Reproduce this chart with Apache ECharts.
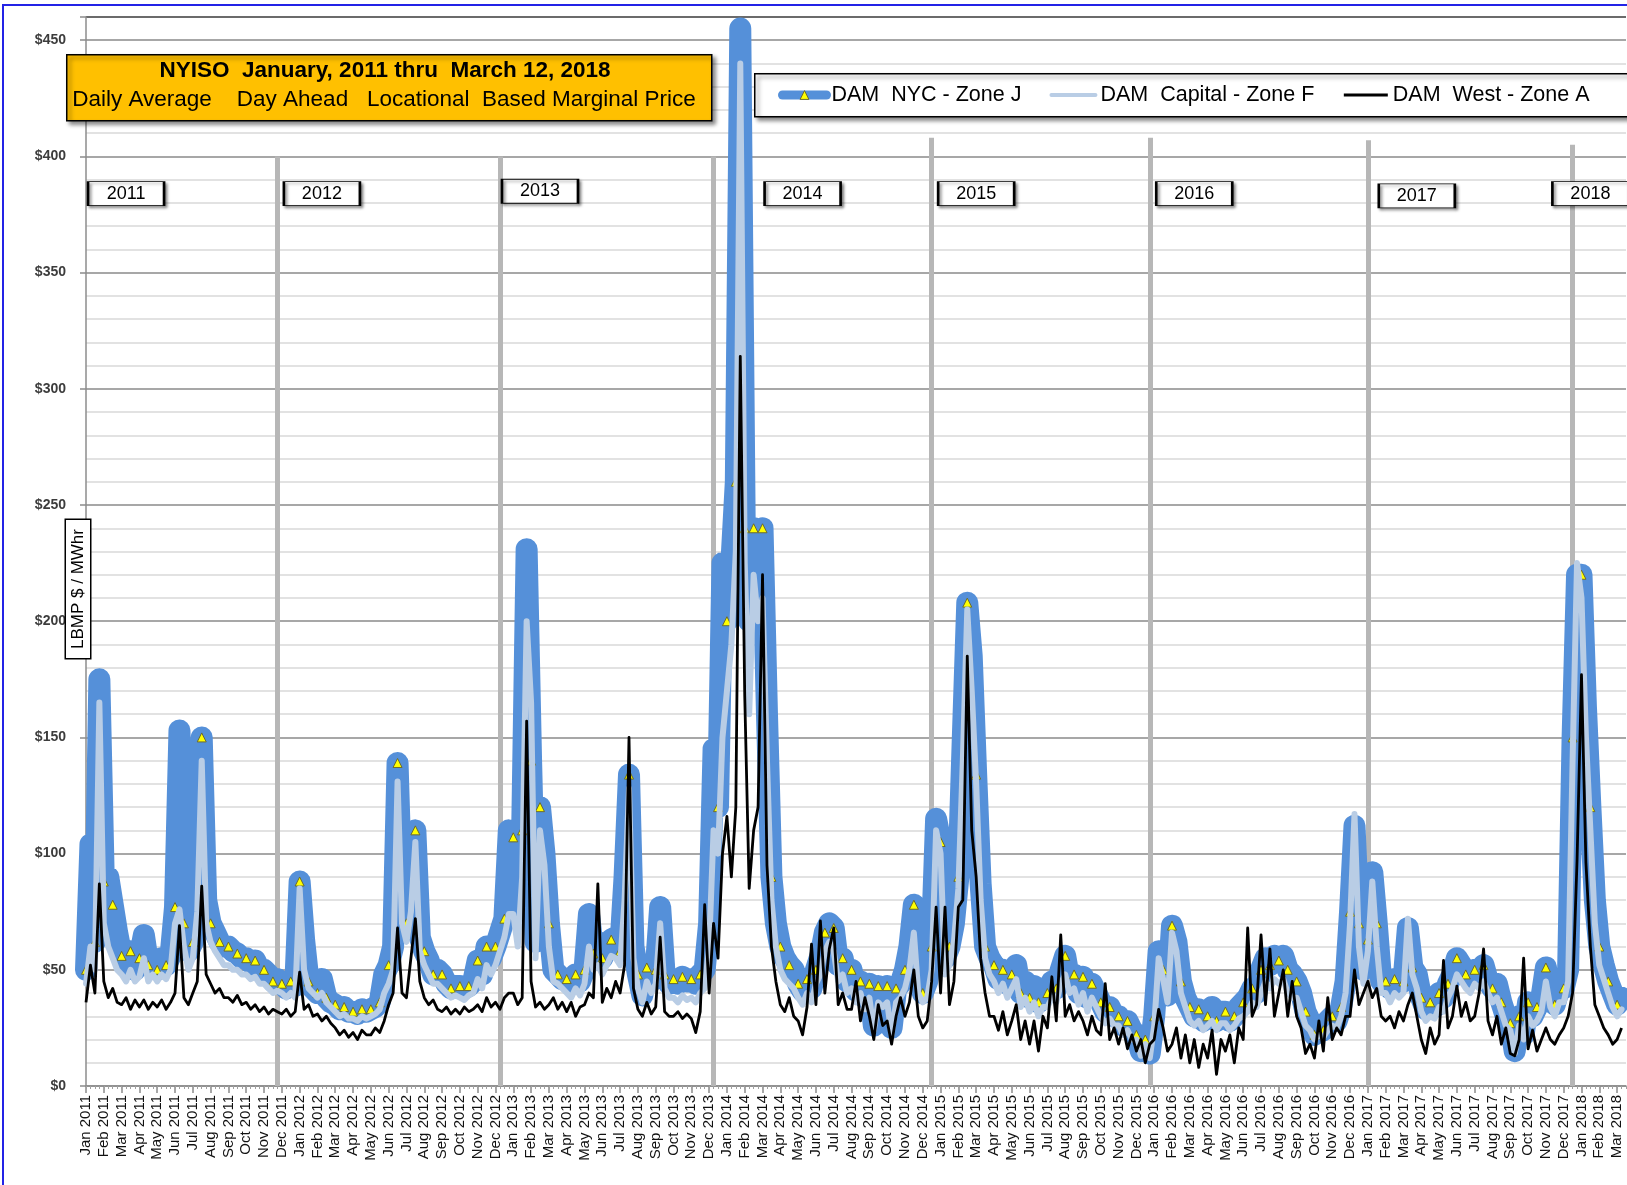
<!DOCTYPE html>
<html><head><meta charset="utf-8">
<script src="https://cdn.jsdelivr.net/npm/echarts@6/dist/echarts.min.js"></script>
<style>
html,body{margin:0;padding:0;background:#fff;overflow:hidden;}
#chart{width:1627px;height:1185px;}
#frame{position:absolute;left:2px;top:4px;width:1660px;height:1220px;border:2px solid #2323e6;pointer-events:none;box-sizing:border-box;}
</style></head><body>
<div id="chart"></div><div id="frame"></div>
<script>
// ---------- tick labels ----------
const MONTHS = ['Jan','Feb','Mar','Apr','May','Jun','Jul','Aug','Sep','Oct','Nov','Dec'];
const YEARS = ['2011','2012','2013','2014','2015','2016','2017','2018'];
const PER_MONTH = 4; // ~weekly readings (1st, 8th, 16th, 23rd of each month)

// ---------- DAM NYC - Zone J ($/MWh) ----------
const nyc2011 = [50,104,62,175, 88,90,78,66, 56,52,58,50, 55,65,52,55, 50,55,52,56, 77,153,70,58, 62,88,150,80, 70,66,62,60, 60,58,57,55, 55,53,54,50, 50,48,45,46, 44,42,45,43];
const nyc2012 = [88,63,45,42, 40,46,38,36, 35,33,34,32, 32,31,33,32, 33,34,36,48, 52,60,139,76, 70,83,110,64, 58,54,48,50, 48,44,42,43, 43,42,43,45, 54,48,60,55, 60,66,72,110];
const nyc2013 = [107,75,110,231, 140,62,120,100, 70,50,48,46, 46,44,48,45, 50,74,57,62, 55,60,63,64, 58,90,134,60, 48,39,51,45, 50,77,48,44, 46,44,47,45, 46,44,48,50, 70,145,120,225];
const nyc2014 = [200,225,260,455, 240,200,240,235, 240,160,90,70, 60,55,52,50, 44,41,46,42, 50,56,66,70, 68,52,55,45, 50,41,45,38, 44,26,43,40, 43,25,42,44, 50,60,78,48, 40,45,60,115];
const nyc2015 = [105,55,60,70, 90,150,208,185, 134,87,60,55, 52,46,50,44, 48,52,40,45, 38,43,36,40, 40,45,42,50, 56,45,48,40, 47,38,44,40, 36,32,34,30, 30,26,28,24, 22,15,20,14];
const nyc2016 = [30,58,50,39, 69,62,45,38, 34,30,33,28, 30,34,28,32, 32,28,30,34, 36,38,42,40, 50,55,52,56, 54,56,50,48, 45,40,32,28, 22,26,24,28, 30,28,34,45, 75,112,70,50];
const nyc2017 = [63,92,70,45, 45,42,46,44, 45,68,51,48, 38,33,36,34, 40,38,44,48, 55,52,48,46, 50,48,52,45, 42,44,36,30, 27,15,30,22, 36,30,34,38, 51,40,35,42, 42,50,150,220];
const nyc2018 = [220,163,120,80, 60,52,45,40, 35,38];

// ---------- DAM Capital - Zone F ----------
const cap2011 = [44,60,50,165, 70,60,55,50, 48,45,50,45, 47,55,45,48, 45,48,46,50, 70,76,60,50, 55,75,140,70, 62,58,55,52, 52,50,50,48, 48,46,47,44, 44,42,40,41, 40,38,40,38];
const cap2012 = [85,50,42,40, 38,40,36,34, 32,30,31,29, 29,28,30,29, 30,31,33,40, 44,50,131,70, 62,75,105,58, 52,48,44,44, 42,40,38,39, 38,37,39,40, 46,42,52,48, 52,58,64,74];
const cap2013 = [74,60,90,200, 165,55,110,95, 60,45,44,42, 40,38,42,39, 44,60,50,52, 48,52,56,55, 52,80,128,55, 42,36,45,40, 44,70,42,38, 38,36,39,37, 38,36,40,42, 60,110,100,150];
const cap2014 = [170,190,230,440, 225,160,220,200, 210,140,80,60, 50,46,44,42, 38,35,40,36, 44,48,58,62, 58,45,48,40, 42,36,40,33, 38,24,36,34, 36,22,36,38, 42,50,66,40, 36,38,50,110];
const cap2015 = [100,48,52,62, 85,140,205,170, 130,80,55,48, 45,40,44,38, 42,46,34,38, 32,36,30,34, 34,38,36,44, 48,40,42,35, 40,32,38,34, 30,27,29,26, 26,22,24,20, 20,13,18,12];
const cap2016 = [26,55,46,36, 66,58,40,34, 28,26,28,24, 26,28,24,27, 27,24,26,29, 30,32,36,34, 40,45,42,46, 44,46,40,38, 38,32,26,24, 20,22,21,24, 26,25,30,40, 70,117,60,44];
const cap2017 = [58,88,60,40, 40,36,40,38, 40,72,48,42, 32,28,30,29, 34,32,38,42, 48,45,42,40, 44,42,45,40, 36,38,32,26, 24,14,26,20, 30,26,28,32, 45,34,30,36, 36,45,140,225];
const cap2018 = [210,150,110,70, 52,46,40,34, 30,33];

// ---------- DAM West - Zone A ----------
const west2011 = [36,52,40,87, 45,38,42,36, 35,38,33,37, 34,37,33,36, 34,37,33,36, 40,69,38,35, 40,45,86,48, 44,40,42,38, 38,36,39,35, 36,33,35,32, 34,31,33,32, 31,33,30,32];
const west2012 = [49,33,35,30, 31,28,30,27, 25,22,24,21, 23,20,24,22, 22,25,23,28, 35,40,68,40, 38,55,72,45, 38,35,37,33, 32,34,31,33, 31,34,32,33, 35,32,38,34, 36,33,38,40];
const west2013 = [40,35,38,157, 45,34,36,33, 35,38,33,36, 32,36,30,34, 35,40,38,87, 36,42,38,45, 40,52,150,42, 33,30,36,31, 34,64,32,30, 30,32,29,31, 29,23,32,78, 40,70,55,100];
const west2014 = [116,90,120,314, 168,85,110,120, 220,95,60,45, 35,32,38,30, 28,22,34,61, 35,71,40,59, 68,35,40,33, 33,45,28,38, 30,20,35,26, 28,18,30,38, 30,36,50,30, 25,28,45,77];
const west2015 = [40,77,35,45, 77,80,185,110, 90,55,40,30, 30,24,32,22, 28,35,20,28, 18,28,15,30, 25,47,28,65, 30,35,28,32, 28,22,30,24, 22,44,20,25, 18,25,16,22, 15,20,10,18];
const west2016 = [20,33,25,15, 18,25,12,22, 10,20,8,18, 12,24,5,20, 15,22,10,25, 20,68,30,35, 65,35,59,30, 40,50,30,45, 30,25,14,18, 12,28,15,38, 20,25,22,30, 30,50,35,40];
const west2017 = [45,38,42,30, 28,30,25,32, 28,35,40,30, 20,14,25,18, 22,54,25,30, 43,30,36,28, 30,40,59,28, 22,30,18,25, 14,13,20,55, 16,24,15,20, 25,20,18,22, 25,30,40,97];
const west2018 = [177,96,60,35, 30,25,22,18, 20,25];

// ---------- year annotations ----------
const YEAR_LINE_IDX = [43, 93, 141, 190, 239, 288, 334];
const YEAR_LINE_TOP = [400, 400, 400, 408, 408, 407, 405];
const YEAR_LABELS = ['2011','2012','2013','2014','2015','2016','2017','2018'];
const YEAR_LABEL_IDX = [9, 53, 102, 161, 200, 249, 299, 338];
const YEAR_LABEL_VAL = [384, 384, 385, 384, 384, 384, 383, 384];

const NYC = [].concat(nyc2011, nyc2012, nyc2013, nyc2014, nyc2015, nyc2016, nyc2017, nyc2018, [null]);
const CAP = [].concat(cap2011, cap2012, cap2013, cap2014, cap2015, cap2016, cap2017, cap2018, [null]);
const WEST = [].concat(west2011, west2012, west2013, west2014, west2015, west2016, west2017, west2018, [null]);

const N = NYC.length;
const categories = [], tickLabels = [];
for (let i = 0; i < N; i++) {
  const m = Math.floor(i / PER_MONTH);
  categories.push(String(i));
  tickLabels.push(i % PER_MONTH === 0 ? MONTHS[m % 12] + ' ' + YEARS[Math.floor(m / 12)] : '');
}

const FONT = "'Liberation Sans Narrow', 'Liberation Sans', Arial, sans-serif";
const NYC_NAME = 'DAM  NYC - Zone J', CAP_NAME = 'DAM  Capital - Zone F', WEST_NAME = 'DAM  West - Zone A';
const NYC_BLUE = '#5590D9', CAP_BLUE = '#B9CDE5';

const gridColors = [];
for (let k = 0; k <= 46; k++) gridColors.push(k === 46 ? '#3a3a3a' : (k % 5 === 0 ? '#8a8a8a' : '#d9d9d9'));

const isMonth = (i) => i % PER_MONTH === 0;

const chart = echarts.init(document.getElementById('chart'), null, {renderer: 'canvas'});
chart.setOption({
  animation: false,
  backgroundColor: '#fff',
  grid: {left: 86, right: 1, top: 17, bottom: 99, containLabel: false},
  legend: {
    left: 778, top: 84, orient: 'horizontal', z: 30,
    itemWidth: 44, itemHeight: 11, itemGap: 28,
    padding: 0,
    textStyle: {fontSize: 21.5, fontFamily: FONT, color: '#000'},
    selectedMode: false,
    data: [
      {name: NYC_NAME, itemStyle: {color: '#FFFF00', borderColor: '#6b6b2e', borderWidth: 1}, lineStyle: {color: NYC_BLUE, width: 9}},
      {name: CAP_NAME, itemStyle: {opacity: 0}, lineStyle: {color: CAP_BLUE, width: 4}},
      {name: WEST_NAME, itemStyle: {opacity: 0}, lineStyle: {color: '#000', width: 3}}
    ]
  },
  xAxis: [{
    type: 'category', data: categories, boundaryGap: false, position: 'bottom',
    axisLine: {show: true, lineStyle: {color: '#8c8c8c', width: 1.5}},
    axisTick: {show: true, interval: isMonth, length: 7, lineStyle: {color: '#8c8c8c', width: 1.5}},
    axisLabel: {interval: isMonth, rotate: 90, margin: 9, fontSize: 15, fontFamily: "'Liberation Sans', Arial, sans-serif", color: '#111',
      formatter: (v, idx) => tickLabels[idx]},
    splitLine: {show: false}
  }, {
    type: 'category', data: categories, boundaryGap: false, position: 'bottom',
    axisLine: {show: false},
    axisTick: {show: true, interval: 0, length: 3, lineStyle: {color: '#a0a0a0'}},
    axisLabel: {show: false}, splitLine: {show: false}
  }],
  yAxis: [{
    type: 'value', min: 0, max: 460, interval: 10, position: 'left',
    axisLine: {show: true, lineStyle: {color: '#8c8c8c', width: 1.5}},
    axisTick: {show: false},
    axisLabel: {margin: 20, fontSize: 14, fontWeight: 'bold', fontFamily: "'Liberation Sans', Arial, sans-serif", color: '#3c3c3c',
      formatter: (v) => (v % 50 === 0 && v <= 450) ? '$' + v : ''},
    splitLine: {show: true, lineStyle: {color: gridColors, width: 1.5}}
  }, {
    type: 'value', min: 0, max: 460, interval: 50, position: 'left',
    axisLine: {show: false}, axisTick: {show: true, length: 6, lineStyle: {color: '#8c8c8c', width: 1.5}},
    axisLabel: {show: false}, splitLine: {show: false}
  }],
  series: [{
    type: 'line', name: 'years', data: NYC.map(() => null), z: 1, silent: true, showSymbol: false,
    markLine: {
      silent: true, symbol: ['none', 'none'], animation: false, z: 1,
      lineStyle: {color: '#b7b7b7', width: 5, type: 'solid'},
      label: {show: false},
      data: YEAR_LINE_IDX.map((x, k) => [{coord: [x, 0]}, {coord: [x, YEAR_LINE_TOP[k]]}])
    },
    markPoint: {
      silent: true, symbol: 'rect', symbolSize: [76, 24], animation: false,
      itemStyle: {color: '#fff', borderColor: '#000', borderWidth: 1.5, shadowColor: 'rgba(0,0,0,0.45)', shadowBlur: 3, shadowOffsetX: 2, shadowOffsetY: 2},
      label: {show: true, position: 'inside', color: '#000', fontSize: 18, fontFamily: FONT, formatter: '{b}'},
      data: YEAR_LABELS.map((y, k) => ({name: y, coord: [YEAR_LABEL_IDX[k], YEAR_LABEL_VAL[k]]}))
    }
  }, {
    type: 'line', name: NYC_NAME, data: NYC, z: 3, silent: true,
    symbol: 'triangle', showSymbol: true, showAllSymbol: true,
    symbolSize: (v, p) => (p.dataIndex % 2 === 0 ? 9 : 0),
    itemStyle: {color: '#FFFF00', borderColor: '#6b6b2e', borderWidth: 1},
    lineStyle: {color: NYC_BLUE, width: 22, cap: 'round', join: 'round'}
  }, {
    type: 'line', name: CAP_NAME, data: CAP, z: 4, silent: true,
    symbol: 'none', showSymbol: false, itemStyle: {color: CAP_BLUE},
    lineStyle: {color: CAP_BLUE, width: 6, cap: 'round', join: 'round'}
  }, {
    type: 'line', name: WEST_NAME, data: WEST, z: 5, silent: true,
    symbol: 'none', showSymbol: false, itemStyle: {color: '#000'},
    lineStyle: {color: '#000', width: 2.8, join: 'round'}
  }],
  graphic: [
    {type: 'rect', left: 754, top: 73, z: 20, shape: {width: 900, height: 43},
     style: {fill: '#fff', stroke: '#000', lineWidth: 1.5, shadowBlur: 4, shadowOffsetX: 3, shadowOffsetY: 3, shadowColor: 'rgba(0,0,0,0.45)'}},
    {type: 'rect', left: 66, top: 54, z: 20, shape: {width: 645, height: 66},
     style: {fill: '#FFC000', stroke: '#000', lineWidth: 1.5, shadowBlur: 4, shadowOffsetX: 3, shadowOffsetY: 3, shadowColor: 'rgba(0,0,0,0.45)'}},
    {type: 'text', x: 385, y: 71, z: 21,
     style: {text: 'NYISO  January, 2011 thru  March 12, 2018', font: 'bold 22.5px ' + FONT, fill: '#000', align: 'center', verticalAlign: 'middle'}},
    {type: 'text', x: 384, y: 100, z: 21,
     style: {text: 'Daily Average    Day Ahead   Locational  Based Marginal Price', font: '22.5px ' + FONT, fill: '#000', align: 'center', verticalAlign: 'middle'}},
    {type: 'text', x: 78, y: 589, z: 21, rotation: Math.PI / 2,
     style: {text: 'LBMP $ / MWhr', font: '17px ' + FONT, fill: '#000', align: 'center', verticalAlign: 'middle',
       backgroundColor: '#fff', borderColor: '#000', borderWidth: 1.5, padding: [4, 9, 3, 9]}}
  ]
});
</script></body></html>
